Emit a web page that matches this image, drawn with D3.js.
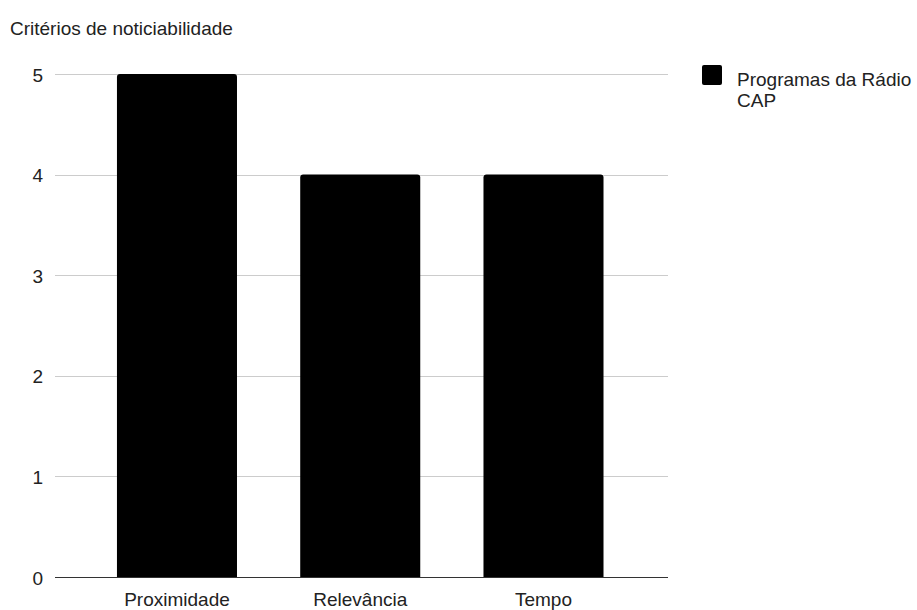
<!DOCTYPE html>
<html>
<head>
<meta charset="utf-8">
<script src="https://cdn.jsdelivr.net/npm/d3@7"></script>
<style>
  html, body { margin: 0; padding: 0; background: #fff; }
  svg { display: block; font-family: "Liberation Sans", Arial, sans-serif; }
</style>
</head>
<body>
<svg id="chart" width="917" height="610"></svg>
<script>
const categories = ["Proximidade", "Relevância", "Tempo"];
const values = [5, 4, 4];
const yTicks = [0, 1, 2, 3, 4, 5];
const seriesName = ["Programas da Rádio", "CAP"];
const chartTitle = "Critérios de noticiabilidade";

const FONT = "Liberation Sans, Arial, sans-serif";
const svg = d3.select("#chart");
const plot = { left: 55, right: 668, top: 74, bottom: 577 };

const x = d3.scaleBand()
  .domain(categories)
  .range([plot.left, plot.right])
  .paddingInner(0.345)
  .paddingOuter(0.345)
  .align(0.49);

const y = d3.scaleLinear()
  .domain([0, 5])
  .range([plot.bottom, plot.top]);

// Title
svg.append("text")
  .attr("x", 10)
  .attr("y", 34.5)
  .attr("font-size", 19)
  .attr("fill", "#222")
  .text(chartTitle);

// Horizontal gridlines
svg.append("g")
  .selectAll("line")
  .data(yTicks.filter(t => t !== 0))
  .join("line")
  .attr("x1", plot.left)
  .attr("x2", plot.right)
  .attr("y1", d => Math.round(y(d)) + 0.5)
  .attr("y2", d => Math.round(y(d)) + 0.5)
  .attr("stroke", "#cccccc")
  .attr("stroke-width", 1);

// Y axis labels
const yAxis = d3.axisLeft(y).tickValues(yTicks).tickFormat(d3.format("d")).tickSize(0).tickPadding(0);
const gy = svg.append("g")
  .attr("transform", `translate(${plot.left - 12},0)`)
  .call(yAxis);
gy.select(".domain").remove();
gy.selectAll("text")
  .attr("font-size", 19)
  .attr("font-family", FONT)
  .attr("dy", "0.37em")
  .attr("fill", "#222");

// Bars with lightly rounded tops
const r = 3;
function barPath(d, i) {
  const x0 = x(categories[i]);
  const w = x.bandwidth();
  const yt = y(d);
  const yb = y(0);
  return `M${x0},${yb} L${x0},${yt + r} Q${x0},${yt} ${x0 + r},${yt} ` +
         `L${x0 + w - r},${yt} Q${x0 + w},${yt} ${x0 + w},${yt + r} L${x0 + w},${yb} Z`;
}
svg.append("g")
  .selectAll("path")
  .data(values)
  .join("path")
  .attr("d", barPath)
  .attr("fill", "#000");

// Baseline
svg.append("line")
  .attr("x1", plot.left)
  .attr("x2", plot.right)
  .attr("y1", y(0) + 0.5)
  .attr("y2", y(0) + 0.5)
  .attr("stroke", "#333")
  .attr("stroke-width", 1.2);

// X axis labels
const xAxis = d3.axisBottom(x).tickSize(0).tickPadding(0);
const gx = svg.append("g")
  .attr("transform", `translate(0,606)`)
  .call(xAxis);
gx.select(".domain").remove();
gx.selectAll("text")
  .attr("font-size", 19)
  .attr("font-family", FONT)
  .attr("dy", "0")
  .attr("fill", "#222");

// Legend
const legend = svg.append("g").attr("transform", "translate(702,65)");
legend.append("rect")
  .attr("width", 20).attr("height", 20).attr("rx", 2)
  .attr("fill", "#000");
legend.append("text")
  .attr("y", 21)
  .attr("font-size", 19)
  .attr("fill", "#222")
  .selectAll("tspan")
  .data(seriesName)
  .join("tspan")
  .attr("x", 35)
  .attr("dy", (d, i) => i === 0 ? 0 : 21)
  .text(d => d);
</script>
</body>
</html>
